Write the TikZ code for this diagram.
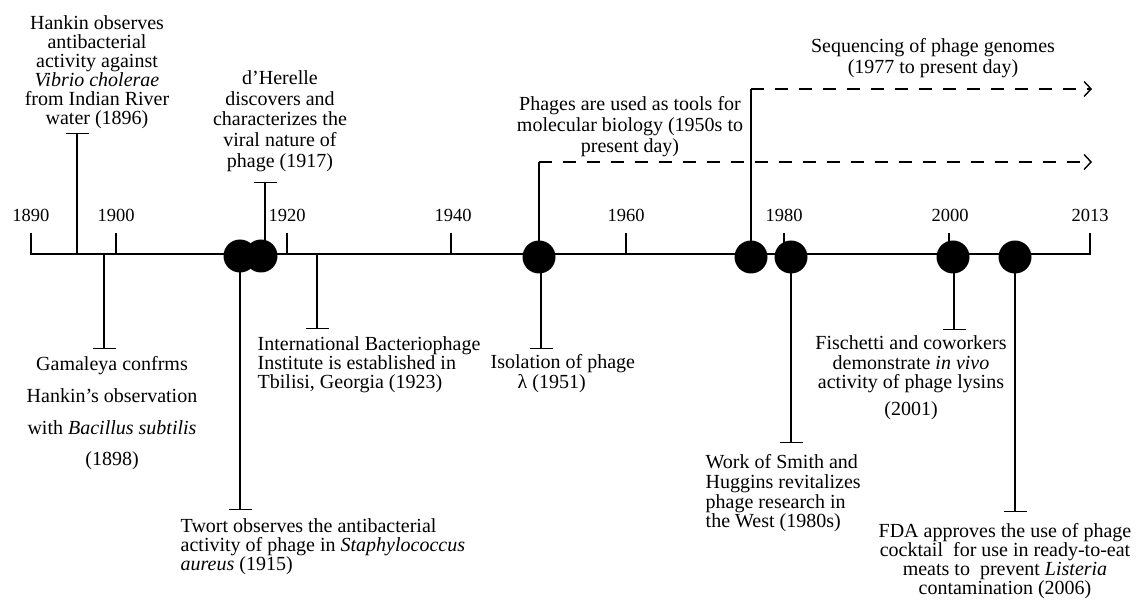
\documentclass[tikz,border=0pt]{standalone}
\usepackage{fontspec}
\setmainfont{Liberation Serif}
\usetikzlibrary{arrows.meta}
\begin{document}
\begin{tikzpicture}[x=1pt,y=-1pt,line width=1.4pt,
  ev/.style={inner sep=0pt,font=\fontsize{20}{#1}\selectfont},
  ev/.default=19,
  yr/.style={inner sep=0pt,anchor=base,font=\fontsize{18.5}{20}\selectfont},
  dot/.style={circle,fill=black,minimum size=33pt,inner sep=0pt},
  tcap/.style={-{Bar[width=23pt,line width=1.4pt]}},
  ongoing/.style={dash pattern=on 13pt off 11pt,-{Straight Barb[length=7pt,width=15pt,line width=1.4pt]}}
]
\useasboundingbox (0,0) rectangle (1137,601);
% axis
\draw (31,233) -- (31,254) -- (1090,254) -- (1090,233);
\foreach \x in {116,287,451,626,784,949} \draw (\x,233) -- (\x,254);
\node[yr] (y1890) at (31,222) {1890};
\node[yr] (y1900) at (116,222) {1900};
\node[yr] (y1920) at (287,222) {1920};
\node[yr] (y1940) at (453,222) {1940};
\node[yr] (y1960) at (626,222) {1960};
\node[yr] (y1980) at (784,222) {1980};
\node[yr] (y2000) at (950,222) {2000};
\node[yr] (y2013) at (1090,222) {2013};
% coordinates
\coordinate (hkA) at (77,254);   \coordinate (hkC) at (77,133);
\coordinate (gmA) at (104,254);  \coordinate (gmC) at (104,349);
\coordinate (ibA) at (317,254);  \coordinate (ibC) at (317,329);
\coordinate (dhA) at (265,256);  \coordinate (dhC) at (265,182);
\coordinate (twC) at (240,510);
\coordinate (isC) at (541,349);
\coordinate (phT) at (539,162);  \coordinate (phE) at (1092,162);
\coordinate (sqT) at (751,89);   \coordinate (sqE) at (1092,89);
\coordinate (smC) at (791,443);
\coordinate (fiC) at (954,330);
\coordinate (fdC) at (1015,512);
% connectors (under the dots)
\draw[tcap] (hkA) -- (hkC);
\draw[tcap] (gmA) -- (gmC);
\draw[tcap] (ibA) -- (ibC);
\draw[tcap] (dhA) -- (dhC);
\draw[tcap] (240,256) -- (twC);
\draw[tcap] (541,256) -- (isC);
\draw (539,256) -- (phT);
\draw[ongoing] (phT) -- (phE);
\draw (751,256) -- (sqT);
\draw[ongoing] (sqT) -- (sqE);
\draw[tcap] (791,256) -- (smC);
\draw[tcap] (954,256) -- (fiC);
\draw[tcap] (1015,256) -- (fdC);
% dots
\node[dot] (tw) at (240,256) {};
\node[dot] (dh) at (261,256) {};
\node[dot] (ph) at (539,257) {};
\node[dot] (sq) at (751,257) {};
\node[dot] (sm) at (791,257) {};
\node[dot] (fi) at (953,257) {};
\node[dot] (fd) at (1015,257) {};
% texts
\node[ev=19,align=center,anchor=north] (hk) at (97,15) {Hankin observes\\antibacterial\\activity against\\\textit{Vibrio cholerae}\\from Indian River\\water (1896)};
\node[ev=20.7,align=center,anchor=north] (dht) at (280,70) {d’Herelle\\discovers and\\characterizes the\\viral nature of\\phage (1917)};
\node[ev=31.7,align=center,anchor=north] (gm) at (112,356) {Gamaleya confrms\\Hankin’s observation\\with \textit{Bacillus subtilis}\\(1898)};
\node[ev=19,align=left,anchor=north west] (twt) at (180,518) {Twort observes the antibacterial\\activity of phage in \textit{Staphylococcus}\\\textit{aureus} (1915)};
\node[ev=19,align=left,anchor=north west] (ib) at (257,336) {International Bacteriophage\\Institute is established in\\Tbilisi, Georgia (1923)};
\node[ev=21,align=center,anchor=north] (pht) at (630,96) {Phages are used as tools for\\molecular biology (1950s to\\present day)};
\node[ev=20,align=left,anchor=north west] (ist) at (490,354) {Isolation of phage\\\hspace*{27pt}λ (1951)};
\node[ev=21,align=center,anchor=north] (sqt) at (933,38) {Sequencing of phage genomes\\(1977 to present day)};
\node[ev=19.7,align=left,anchor=north west] (smt) at (705,454) {Work of Smith and\\Huggins revitalizes\\phage research in\\the West (1980s)};
\node[ev=19.5,align=center,anchor=north] (fit) at (911,335) {Fischetti and coworkers\\demonstrate \textit{in vivo}\\activity of phage lysins\\[7pt](2001)};
\node[ev=19,align=center,anchor=north] (fdt) at (1005,523) {FDA approves the use of phage\\cocktail~ for use in ready-to-eat\\meats to~ prevent \textit{Listeria}\\contamination (2006)};
\end{tikzpicture}
\end{document}
